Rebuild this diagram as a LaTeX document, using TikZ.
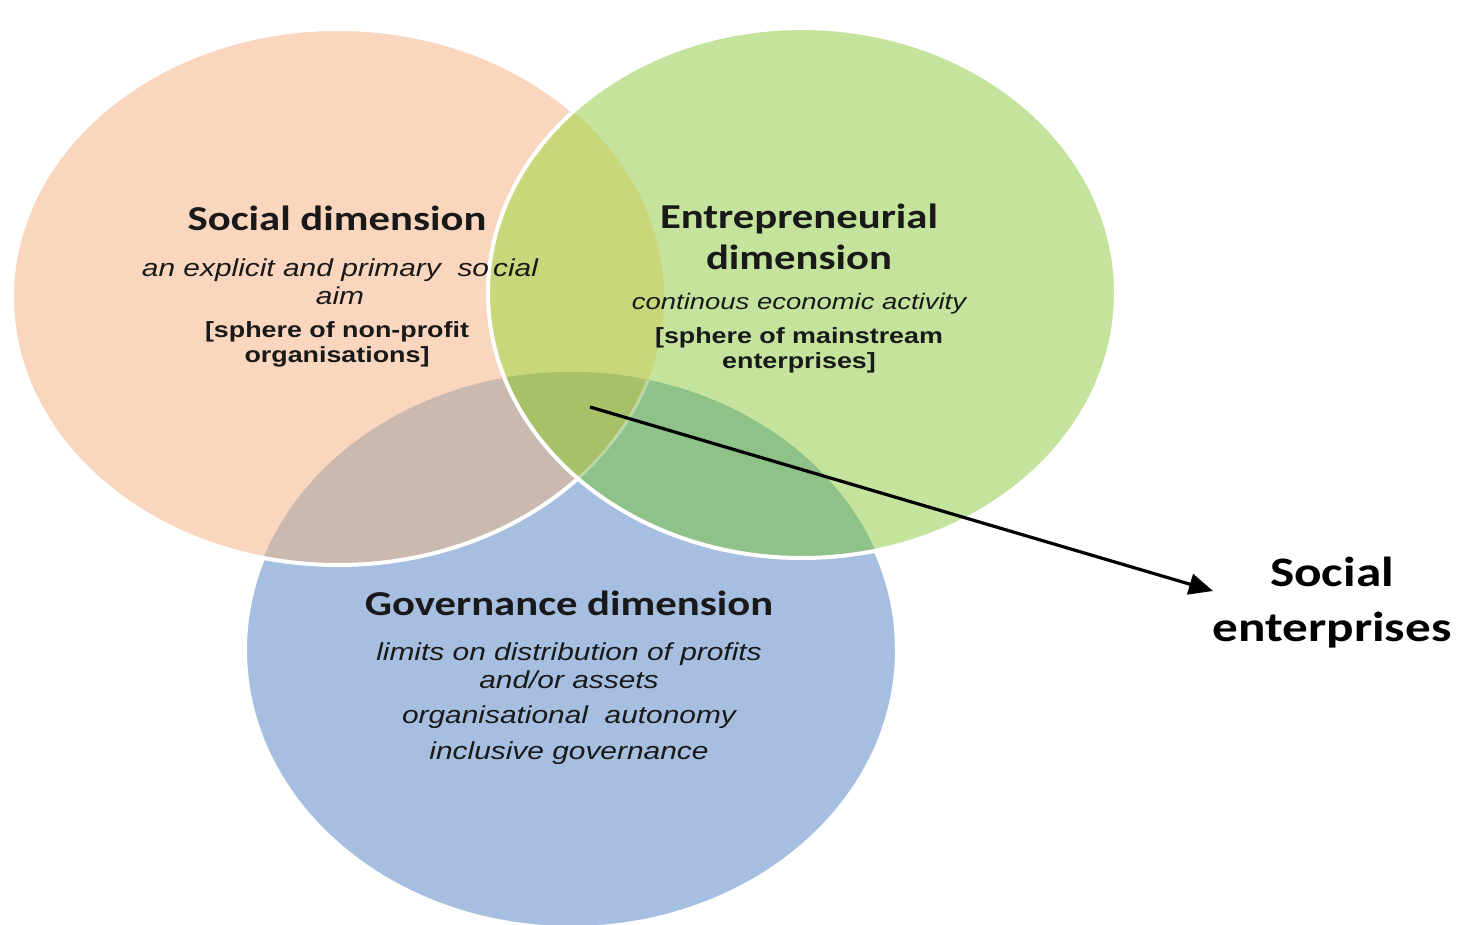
\documentclass[tikz,border=0pt]{standalone}
\usepackage{fontspec}
\usetikzlibrary{arrows.meta}
\newfontfamily\headf{Carlito}[FakeStretch=1.22]
\newfontfamily\arf{Liberation Sans}[FakeStretch=1.22]
\definecolor{orC}{RGB}{250,214,190}
\definecolor{grC}{RGB}{196,227,156}
\definecolor{blC}{RGB}{166,190,224}
\definecolor{obC}{RGB}{201,185,174}
\definecolor{ogC}{RGB}{201,214,122}
\definecolor{gbC}{RGB}{142,194,136}
\definecolor{ogbC}{RGB}{168,192,104}
\definecolor{txtC}{RGB}{25,25,25}
\tikzset{
  headtext/.style={font=\headf\bfseries\fontsize{35}{41}\selectfont, text=txtC, align=center, inner sep=0pt},
  ittext/.style={font=\arf\itshape\fontsize{24.5}{28}\selectfont, text=txtC, align=center, inner sep=0pt},
  brtext/.style={font=\arf\bfseries\fontsize{22}{25}\selectfont, text=txtC, align=center, inner sep=0pt},
  setext/.style={font=\headf\bfseries\fontsize{42}{55}\selectfont, text=black, align=center, inner sep=0pt},
  rim/.style={draw=white, line width=4pt},
}
\def\orE{(338,297) ellipse [x radius=326, y radius=268]}
\def\grE{(802,293) ellipse [x radius=314, y radius=265]}
\def\blE{(571,650) ellipse [x radius=326, y radius=278]}
\begin{document}
\begin{tikzpicture}[x=1pt,y=-1pt]
\fill[white] (0,0) rectangle (1462,925);
\useasboundingbox (0,0) rectangle (1462,925);
% blue
\fill[blC] \blE;
\draw[rim] \blE;
% orange
\fill[orC] \orE;
\begin{scope}\clip \blE; \fill[obC] \orE; \end{scope}
\draw[rim] \orE;
% green
\fill[grC] \grE;
\begin{scope}\clip \grE; \fill[ogC] \orE; \end{scope}
\begin{scope}\clip \grE; \fill[gbC] \blE; \end{scope}
\begin{scope}\clip \grE; \clip \blE; \fill[ogbC] \orE; \end{scope}
\begin{scope}\clip \grE; \clip \blE; \draw[white, opacity=0.35, line width=3pt] \orE; \end{scope}
\draw[rim] \grE;
% texts
\node[headtext] (sh) at (337,218) {Social dimension};
\node[ittext] (st) at (340,282) {an explicit and primary\ \ so\,cial\\aim};
\node[brtext] (sb) at (337,344) {[sphere of non-profit\\organisations]};
\node[headtext] (eh) at (799,237) {Entrepreneurial\\dimension};
\node[ittext, font=\arf\itshape\fontsize{22.5}{28}\selectfont] (et) at (799,304) {continous economic activity};
\node[brtext] (eb) at (799,350) {[sphere of mainstream\\enterprises]};
\node[headtext] (gh) at (569,603) {Governance dimension};
\node[ittext] (gt1) at (569,666) {limits on distribution of profits\\and/or assets};
\node[ittext] (gt2) at (569,717) {organisational\ \ autonomy};
\node[ittext] (gt3) at (569,753) {inclusive governance};
\node[setext] (se) at (1332,603) {Social\\enterprises};
% arrow
\coordinate (core) at (590,407);
\coordinate (tip) at (1213,591);
\draw[line width=3.2pt, -{Triangle[length=24pt,width=21pt]}] (core) -- (tip);
\end{tikzpicture}
\end{document}
